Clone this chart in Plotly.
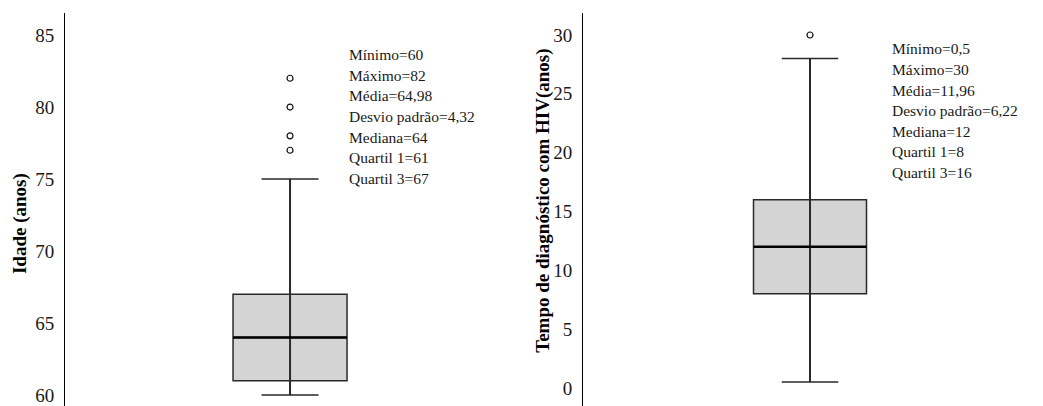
import plotly.graph_objects as go

# Idade (anos)
idade_stats = {"min": 60, "q1": 61, "median": 64, "q3": 67, "upper_whisker": 75}
idade_outliers = [82, 80, 78, 77]
idade_labels = ["Mínimo=60", "Máximo=82", "Média=64,98", "Desvio padrão=4,32",
                "Mediana=64", "Quartil 1=61", "Quartil 3=67"]
idade_ticks = [60, 65, 70, 75, 80, 85]

# Tempo de diagnóstico com HIV (anos)
hiv_stats = {"min": 0.5, "q1": 8, "median": 12, "q3": 16, "upper_whisker": 28}
hiv_outliers = [30]
hiv_labels = ["Mínimo=0,5", "Máximo=30", "Média=11,96", "Desvio padrão=6,22",
              "Mediana=12", "Quartil 1=8", "Quartil 3=16"]
hiv_ticks = [0, 5, 10, 15, 20, 25, 30]

W, H = 1043, 406
SERIF = "Liberation Serif, Times New Roman, serif"
BOX_FILL = "#d4d4d4"
EDGE = "#2a2a2a"

fig = go.Figure()


def add_panel(stats, outliers, xa, ya):
    # box body with caps
    fig.add_trace(go.Box(
        x=[0], q1=[stats["q1"]], median=[stats["median"]], q3=[stats["q3"]],
        lowerfence=[stats["min"]], upperfence=[stats["upper_whisker"]],
        width=1, whiskerwidth=0.5, fillcolor=BOX_FILL,
        line=dict(color=EDGE, width=1.5), boxpoints=False,
        xaxis=xa, yaxis=ya, showlegend=False, hoverinfo="skip"))
    # whisker running through the box
    fig.add_trace(go.Scatter(
        x=[0, 0], y=[stats["min"], stats["upper_whisker"]], mode="lines",
        line=dict(color=EDGE, width=2), xaxis=xa, yaxis=ya,
        showlegend=False, hoverinfo="skip"))
    # median line
    fig.add_trace(go.Scatter(
        x=[-0.5, 0.5], y=[stats["median"]] * 2, mode="lines",
        line=dict(color="#000000", width=2.5), xaxis=xa, yaxis=ya,
        showlegend=False, hoverinfo="skip"))
    # outliers
    fig.add_trace(go.Scatter(
        x=[0] * len(outliers), y=outliers, mode="markers",
        marker=dict(symbol="circle-open", size=6, color="#111",
                    line=dict(width=1.2, color="#111")),
        xaxis=xa, yaxis=ya, showlegend=False, hoverinfo="skip"))


add_panel(idade_stats, idade_outliers, "x", "y")
add_panel(hiv_stats, hiv_outliers, "x2", "y2")

axis_common = dict(showline=True, linecolor="#000", linewidth=1, showgrid=False,
                   zeroline=False, ticks="", tickfont=dict(family=SERIF, size=19, color="#1a1a1a"),
                   ticklabelstandoff=6)

fig.update_layout(
    width=W, height=H,
    margin=dict(l=0, r=0, t=13, b=0),
    paper_bgcolor="white", plot_bgcolor="white",
    xaxis=dict(domain=[65 / W, 521 / W], range=[-1.974, 2.026], visible=False),
    xaxis2=dict(domain=[583 / W, 1.0], range=[-2.009, 2.062], visible=False),
    yaxis=dict(range=[59.24, 86.53], tickvals=idade_ticks, anchor="x", **axis_common),
    yaxis2=dict(range=[-1.53, 31.87], tickvals=hiv_ticks, anchor="x2", **axis_common),
)

# summary statistics, one line per annotation
stat_font = dict(family=SERIF, size=15.5, color="#1a1a1a")
for labels, x0, y0 in ((idade_labels, 347, 43), (hiv_labels, 890, 37)):
    for i, line in enumerate(labels):
        fig.add_annotation(text=line, xref="paper", yref="paper",
                           x=x0 / W, y=1 - (y0 + 21.3 * i) / H,
                           xanchor="left", yanchor="middle", align="left",
                           showarrow=False, font=stat_font)

title_font = dict(family=SERIF, size=19, color="#000")
fig.add_annotation(text="<b>Idade (anos)</b>", xref="paper", yref="paper",
                   x=20 / W, y=1 - 218 / H, xanchor="center", yanchor="middle",
                   textangle=-90, showarrow=False, font=title_font)
fig.add_annotation(text="<b>Tempo de diagnóstico com HIV(anos)</b>", xref="paper", yref="paper",
                   x=543 / W, y=1 - 194 / H, xanchor="center", yanchor="middle",
                   textangle=-90, showarrow=False, font=title_font)

fig.write_html("out.html")
